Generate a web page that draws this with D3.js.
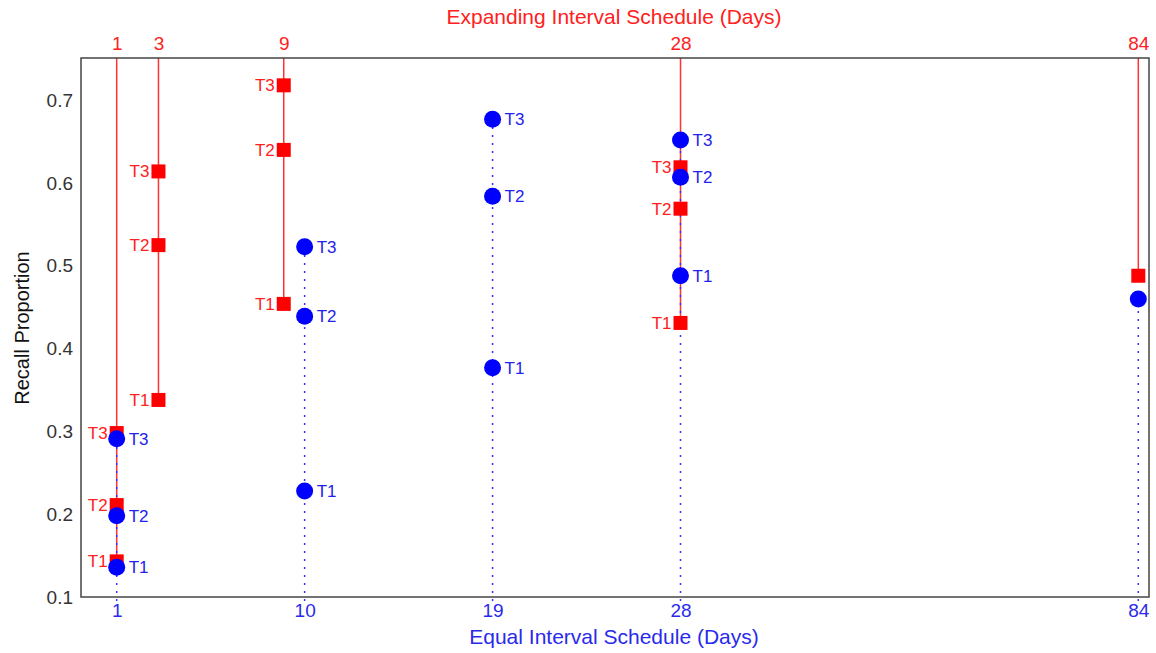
<!DOCTYPE html>
<html><head><meta charset="utf-8">
<script src="https://cdn.jsdelivr.net/npm/d3@7"></script>
<style>body{margin:0;background:#fff;} text{font-family:"Liberation Sans",Arial,sans-serif;}</style>
</head><body>
<svg id="chart" width="1156" height="653"></svg>
<script>
// Data
const equalDays = [1, 10, 19, 28, 84];
const expandDays = [1, 3, 9, 28, 84];
const trialLabels = ["T1", "T2", "T3"];
// Equal interval (blue circles) values per day: T1, T2, T3
const equalValues = [
  [0.136, 0.198, 0.291],
  [0.228, 0.439, 0.523],
  [0.377, 0.584, 0.677],
  [0.488, 0.607, 0.652],
  [0.460]
];
// Expanding interval (red squares) values per day: T1, T2, T3
const expandValues = [
  [0.143, 0.211, 0.298],
  [0.338, 0.525, 0.614],
  [0.454, 0.640, 0.718],
  [0.431, 0.569, 0.619],
  [0.488]
];
const yTicks = [0.1, 0.2, 0.3, 0.4, 0.5, 0.6, 0.7];

const svg = d3.select("#chart");
const L = 81, R = 1149, T = 58, B = 597;

// piecewise x scale (compressed beyond 28)
const x = d3.scaleLinear().domain([1, 28, 84]).range([116.7, 680.5, 1138.3]);
const y = d3.scaleLinear().domain([0.1, 0.751]).range([B, T]);

const RED = "#ff0000", BLUE = "#0000ff";
const FONT = "Liberation Sans, Arial, sans-serif";

const g = svg.append("g");
expandDays.forEach((d, i) => {
  const vals = expandValues[i];
  g.append("line").attr("x1", x(d)).attr("x2", x(d))
    .attr("y1", T).attr("y2", y(d3.min(vals)))
    .attr("stroke", "#ff3333").attr("stroke-width", 1.5);
});
equalDays.forEach((d, i) => {
  const vals = equalValues[i];
  g.append("line").attr("x1", x(d)).attr("x2", x(d))
    .attr("y1", B + 4).attr("y2", y(d3.max(vals)))
    .attr("stroke", "#3333ff").attr("stroke-width", 1.5)
    .attr("stroke-dasharray", "2,6");
});

const sq = 14;
expandDays.forEach((d, i) => {
  expandValues[i].forEach((v, j) => {
    g.append("rect").attr("x", x(d) - sq/2).attr("y", y(v) - sq/2)
      .attr("width", sq).attr("height", sq).attr("fill", RED);
    if (expandValues[i].length > 1)
      g.append("text").attr("x", x(d) - sq/2 - 2).attr("y", y(v)).attr("dy", "0.35em")
        .attr("text-anchor", "end").attr("font-size", 17).attr("fill", "#ff2020")
        .text(trialLabels[j]);
  });
});
equalDays.forEach((d, i) => {
  equalValues[i].forEach((v, j) => {
    g.append("circle").attr("cx", x(d)).attr("cy", y(v)).attr("r", 8.5).attr("fill", BLUE);
    if (equalValues[i].length > 1)
      g.append("text").attr("x", x(d) + 12).attr("y", y(v)).attr("dy", "0.35em")
        .attr("text-anchor", "start").attr("font-size", 17).attr("fill", "#2222ee")
        .text(trialLabels[j]);
  });
});

svg.append("rect").attr("x", L).attr("y", T).attr("width", R - L).attr("height", B - T)
  .attr("fill", "none").attr("stroke", "#444").attr("stroke-width", 1.5);

const yAxis = svg.append("g").attr("transform", `translate(${L},0)`)
  .call(d3.axisLeft(y).tickValues(yTicks).tickFormat(d3.format(".1f")).tickSize(0).tickPadding(8));
yAxis.select(".domain").remove();
yAxis.selectAll("text").attr("font-size", 19).attr("fill", "#333").style("font-family", FONT);

const bAxis = svg.append("g").attr("transform", `translate(0,${B})`)
  .call(d3.axisBottom(x).tickValues(equalDays).tickFormat(d3.format("d")).tickSize(0).tickPadding(7));
bAxis.select(".domain").remove();
bAxis.selectAll("text").attr("font-size", 19).attr("fill", "#2a2aee").style("font-family", FONT);

const tAxis = svg.append("g").attr("transform", `translate(0,${T})`)
  .call(d3.axisTop(x).tickValues(expandDays).tickFormat(d3.format("d")).tickSize(0).tickPadding(8));
tAxis.select(".domain").remove();
tAxis.selectAll("text").attr("font-size", 19).attr("fill", "#ff2020").style("font-family", FONT);

svg.append("text").attr("x", 614).attr("y", 24).attr("text-anchor", "middle")
  .attr("font-size", 21).attr("fill", "#ff2020").text("Expanding Interval Schedule (Days)");
svg.append("text").attr("x", 614).attr("y", 644).attr("text-anchor", "middle")
  .attr("font-size", 21).attr("fill", "#2a2aee").text("Equal Interval Schedule (Days)");
svg.append("text").attr("transform", "translate(29,328) rotate(-90)").attr("text-anchor", "middle")
  .attr("font-size", 20).attr("fill", "#111").text("Recall Proportion");
</script>
</body></html>
